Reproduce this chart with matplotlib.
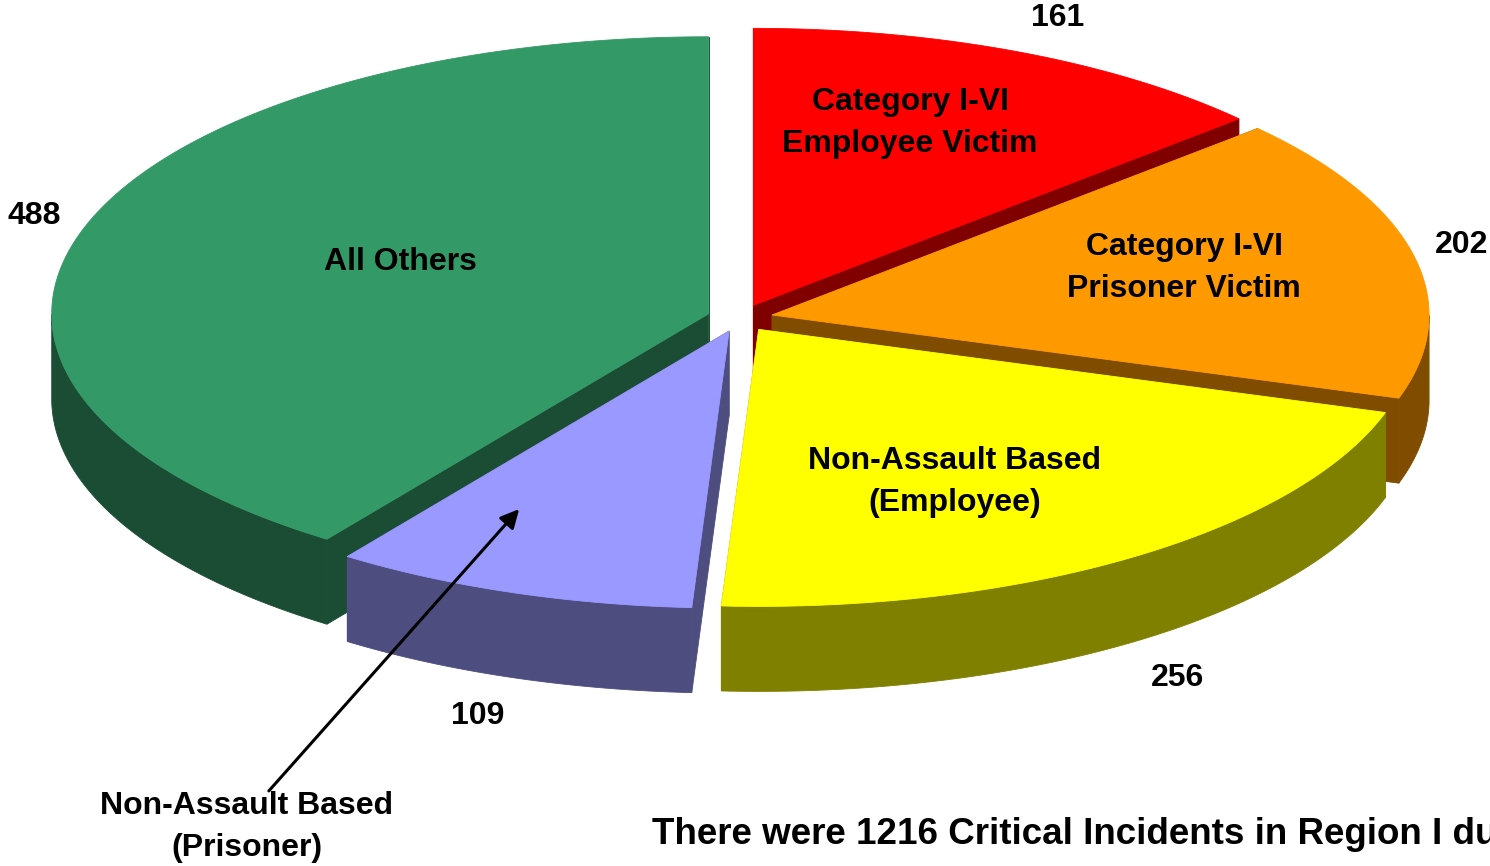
import numpy as np
import matplotlib
matplotlib.use("Agg")
import matplotlib.pyplot as plt
from matplotlib.patches import Polygon

# Slice data, clockwise from 12 o'clock
categories = ["Category I-VI\nEmployee Victim", "Category I-VI\nPrisoner Victim",
              "Non-Assault Based\n(Employee)", "Non-Assault Based\n(Prisoner)", "All Others"]
values = [161, 202, 256, 109, 488]
top_colors = ["#FF0000", "#FF9900", "#FFFF00", "#9999FF", "#339966"]
side_colors = ["#800000", "#7F4C00", "#808000", "#4D4D80", "#1B4D35"]

# Layout of the pseudo-3D pie (pixel space)
CX, CY = 740, 318
RX, RY = 657, 277
DEPTH = 85
EXPLODE = 0.05

FONT = "Liberation Sans"


def rim(theta, ox, oy, dz=0.0):
    t = np.radians(theta)
    return np.column_stack([CX + ox + RX * np.cos(t), CY + oy - RY * np.sin(t) + dz])


fig = plt.figure(figsize=(14.9, 8.66), dpi=100)
ax = fig.add_axes([0, 0, 1, 1])
ax.set_xlim(0, 1490)
ax.set_ylim(866, 0)
ax.axis("off")

total = sum(values)
slices = []
start = 90.0
for i, v in enumerate(values):
    a2 = start
    a1 = start - 360.0 * v / total
    start = a1
    slices.append((i, a1, a2))

# paint back slices first
slices.sort(key=lambda s: -np.sin(np.radians((s[1] + s[2]) / 2)))

for i, a1, a2 in slices:
    mid = np.radians((a1 + a2) / 2)
    ox = EXPLODE * RX * np.cos(mid)
    oy = -EXPLODE * RY * np.sin(mid)
    apex = np.array([[CX + ox, CY + oy]])
    apex_low = apex + [0, DEPTH]
    top, side = top_colors[i], side_colors[i]

    back, front = [], []
    for ang, normal in ((a1, a1 - 90), (a2, a2 + 90)):
        p = rim(np.array([ang]), ox, oy)
        quad = np.vstack([apex, p, p + [0, DEPTH], apex_low])
        (front if np.sin(np.radians(normal)) < 0 else back).append(quad)

    th = np.linspace(a1, a2, 400)
    mask = np.sin(np.radians(th)) < 0
    if mask.any():
        seg = th[mask]
        upper = rim(seg, ox, oy)
        lower = rim(seg, ox, oy, DEPTH)
        front.append(np.vstack([upper, lower[::-1]]))

    for poly in back + front:
        ax.add_patch(Polygon(poly, closed=True, facecolor=side, edgecolor=side, lw=0.6))
    top_poly = np.vstack([apex, rim(th, ox, oy)])
    ax.add_patch(Polygon(top_poly, closed=True, facecolor=top, edgecolor=top, lw=0.6))

# Labels inside slices
inner_pos = [(910, 123), (1184, 268), (955, 482), None, (400, 262)]
value_pos = [(1058, 18), (1462, 245), (1178, 678), (478, 716), (34, 216)]
for i, cat in enumerate(categories):
    if inner_pos[i] is not None:
        ax.text(*inner_pos[i], cat, ha="center", va="center", fontsize=23,
                fontweight="bold", family=FONT, linespacing=1.48)
    ax.text(*value_pos[i], str(values[i]), ha="center", va="center", fontsize=23,
            fontweight="bold", family=FONT)

# Callout for the small slice
ax.annotate("", xy=(521, 507), xytext=(267, 793),
            arrowprops=dict(arrowstyle="-|>", color="black", lw=2.2, mutation_scale=28))
ax.text(247, 827, categories[3], ha="center", va="center", fontsize=23,
        fontweight="bold", family=FONT, linespacing=1.48)

ax.text(652, 834, f"There were {total} Critical Incidents in Region I during",
        ha="left", va="center", fontsize=26.5, fontweight="bold", family=FONT)

fig.savefig("out.png", dpi=100, facecolor="white")
